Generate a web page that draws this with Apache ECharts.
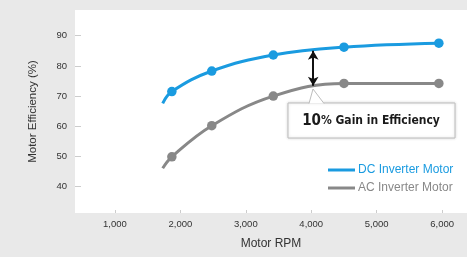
<!DOCTYPE html>
<html>
<head>
<meta charset="utf-8">
<title>Motor Efficiency</title>
<script src="https://cdn.jsdelivr.net/npm/echarts@6/dist/echarts.min.js"></script>
<style>
  html, body { margin: 0; padding: 0; background: #e9e9e9; }
  #main { width: 467px; height: 257px; }
</style>
</head>
<body>
<div id="main"></div>
<script type="text/javascript">
// data
var rpm = [1730, 1870, 2480, 3420, 4500, 5950];
var dcEff = [67.6, 71.5, 78.3, 83.6, 86.2, 87.5];
var acEff = [46.1, 49.9, 60.2, 70.0, 74.2, 74.2];
var xTicks = [1000, 2000, 3000, 4000, 5000, 6000];
var yTicks = [40, 50, 60, 70, 80, 90];
var gainAt = 4030, gainTop = 85.0, gainBottom = 73.4;

var blue = '#1a9be0', grey = '#888888';

function pairs(ys) {
  // first point only starts the curve, no marker on it
  return rpm.map(function (x, i) {
    var p = { value: [x, ys[i]] };
    if (i === 0) p.symbol = 'none';
    return p;
  });
}

var myChart = echarts.init(document.getElementById('main'));
myChart.setOption({
  animation: false,
  textStyle: { fontFamily: 'Liberation Sans, Arial, sans-serif' },
  grid: {
    left: 75, right: 0, top: 10, bottom: 44,
    show: true, backgroundColor: '#fff', borderWidth: 0
  },
  xAxis: {
    type: 'value', min: 390, max: 6380,
    name: 'Motor RPM', nameLocation: 'middle', nameGap: 25,
    nameTextStyle: { fontSize: 12, color: '#333' },
    axisLine: { show: false },
    axisTick: { show: true, inside: true, length: 3, customValues: xTicks, lineStyle: { color: '#ccc' } },
    axisLabel: {
      customValues: xTicks, fontSize: 9.5, color: '#333', margin: 6,
      formatter: function (v) { return v.toLocaleString('en-US'); }
    },
    splitLine: { show: false }
  },
  yAxis: {
    type: 'value', min: 31.3, max: 98.5,
    name: 'Motor Efficiency (%)', nameLocation: 'middle', nameGap: 36,
    nameTextStyle: { fontSize: 11.5, color: '#333' },
    axisLine: { show: false },
    axisTick: { show: true, inside: true, length: 6, customValues: yTicks, lineStyle: { color: '#ccc' } },
    axisLabel: { customValues: yTicks, fontSize: 9.5, color: '#333', margin: 8 },
    splitLine: { show: false }
  },
  legend: {
    orient: 'vertical', left: 323, top: 159, itemGap: 6,
    icon: 'rect', itemWidth: 27, itemHeight: 3,
    textStyle: { fontSize: 12, padding: [0, 0, 0, -2] },
    data: [
      { name: 'DC Inverter Motor', textStyle: { color: blue } },
      { name: 'AC Inverter Motor', textStyle: { color: grey } }
    ]
  },
  series: [
    {
      name: 'DC Inverter Motor', type: 'line', smooth: 0.4,
      data: pairs(dcEff), symbol: 'circle', symbolSize: 9.5,
      lineStyle: { color: blue, width: 3 }, itemStyle: { color: blue },
      markLine: {
        silent: true, symbol: ['arrow', 'arrow'], symbolSize: [8, 9],
        lineStyle: { color: '#111', width: 2, type: 'solid' },
        label: { show: false },
        data: [[{ coord: [gainAt, gainTop] }, { coord: [gainAt, gainBottom] }]]
      }
    },
    {
      name: 'AC Inverter Motor', type: 'line', smooth: 0.4,
      data: pairs(acEff), symbol: 'circle', symbolSize: 9.5,
      lineStyle: { color: grey, width: 3 }, itemStyle: { color: grey }
    }
  ],
  graphic: [
    {
      type: 'rect', shape: { x: 288, y: 103, width: 167, height: 35 },
      style: { fill: '#fff', stroke: '#bdbdbd', lineWidth: 1, shadowBlur: 3, shadowColor: 'rgba(0,0,0,0.15)' },
      z: 100
    },
    {
      type: 'polyline', shape: { points: [[309, 103.5], [313, 89], [324, 103.5]] },
      style: { fill: '#fff', stroke: '#bdbdbd', lineWidth: 1 }, z: 101
    },
    {
      type: 'text', x: 371, y: 121, z: 102,
      style: {
        text: '{a|10}{b|% Gain in Efficiency}',
        align: 'center', verticalAlign: 'middle',
        rich: {
          a: { fontFamily: 'DejaVu Sans Condensed', fontWeight: 'bold', fontSize: 15, fill: '#1a1a1a' },
          b: { fontFamily: 'DejaVu Sans Condensed', fontWeight: 'bold', fontSize: 12, fill: '#1a1a1a' }
        }
      }
    }
  ]
});
</script>
</body>
</html>
